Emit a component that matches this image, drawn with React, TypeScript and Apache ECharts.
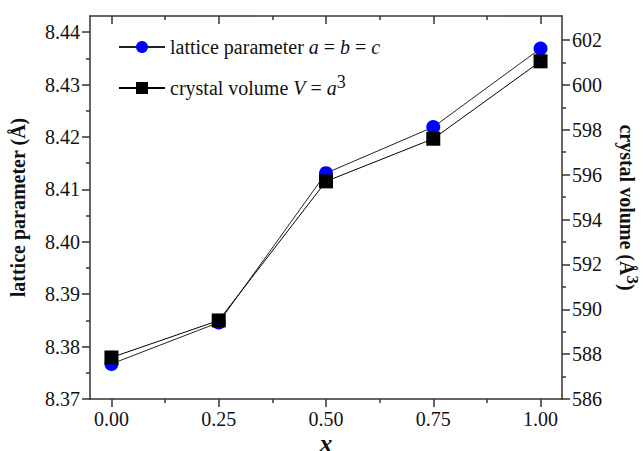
import React, { useEffect, useRef } from "react";
import * as echarts from "echarts";

const xValues = [0, 0.25, 0.5, 0.75, 1.0];
const latticeA = [8.3767, 8.3846, 8.4131, 8.4219, 8.4369];
const volumeV = [587.85, 589.5, 595.7, 597.6, 601.05];

const xMajor = [0, 0.25, 0.5, 0.75, 1.0];
const xMinor = [0.125, 0.375, 0.625, 0.875];
const leftMajor = [8.37, 8.38, 8.39, 8.4, 8.41, 8.42, 8.43, 8.44];
const leftMinor = [8.375, 8.385, 8.395, 8.405, 8.415, 8.425, 8.435];
const rightMajor = [586, 588, 590, 592, 594, 596, 598, 600, 602];
const rightMinor = [587, 589, 591, 593, 595, 597, 599, 601];

const FONT = "'Liberation Serif', 'Times New Roman', serif";
const AX = "#333";

export default function App() {
  const ref = useRef<HTMLDivElement>(null);
  useEffect(() => {
    if (!ref.current) return;
    document.body.style.margin = "0";
    const chart = echarts.init(ref.current, undefined, { renderer: "svg" });
    const X_MIN = -0.05, X_MAX = 1.05;
    const L_MIN = 8.37, L_MAX = 8.4431;
    const R_MIN = 586, R_MAX = 603.07;

    const gridBox = { left: 90, right: 81, top: 16, bottom: 52, containLabel: false, outerBoundsMode: "none" };

    const xAxisBase = (gridIndex: number, position: string, values: number[], len: number, inside: boolean, label: boolean, line: boolean) => ({
      type: "value",
      gridIndex,
      position,
      min: X_MIN,
      max: X_MAX,
      splitLine: { show: false },
      axisLine: { show: line, onZero: false, lineStyle: { color: AX, width: 1.5 } },
      axisTick: { show: true, inside, length: len, customValues: values, lineStyle: { color: AX, width: 1.5 } },
      axisLabel: label
        ? { show: true, customValues: values, formatter: (v: number) => v.toFixed(2), fontFamily: FONT, fontSize: 20, lineHeight: 20, color: "#111", margin: 10 }
        : { show: false },
    });
    const yAxisBase = (gridIndex: number, position: string, min: number, max: number, values: number[], len: number, label: boolean, line: boolean, fmt: (v: number) => string) => ({
      type: "value",
      gridIndex,
      position,
      min,
      max,
      splitLine: { show: false },
      axisLine: { show: line, onZero: false, lineStyle: { color: AX, width: 1.5 } },
      axisTick: { show: true, inside: false, length: len, customValues: values, lineStyle: { color: AX, width: 1.5 } },
      axisLabel: label
        ? { show: true, customValues: values, formatter: fmt, fontFamily: FONT, fontSize: 20, color: "#111", margin: 10 }
        : { show: false },
    });

    const xAxes: any[] = [
      {
        ...xAxisBase(0, "bottom", xMajor, 8, false, true, true),
        name: "x",
        nameLocation: "middle",
        nameGap: 31,
        nameMoveOverlap: false,
        nameTextStyle: { fontFamily: FONT, fontSize: 26, lineHeight: 26, fontWeight: "bold", fontStyle: "italic", color: "#111" },
      },
      xAxisBase(0, "top", xMajor, 8, true, false, true),
      xAxisBase(1, "bottom", xMinor, 4, false, false, false),
      xAxisBase(1, "top", xMinor, 4, true, false, false),
    ];
    const yAxes: any[] = [
      {
        ...yAxisBase(0, "left", L_MIN, L_MAX, leftMajor, 8, true, true, (v) => v.toFixed(2)),
        name: "lattice parameter (Å)",
        nameLocation: "middle",
        nameGap: 62,
        nameRotate: 90,
        nameTextStyle: { fontFamily: FONT, fontSize: 20, fontWeight: "bold", color: "#111" },
      },
      {
        ...yAxisBase(0, "right", R_MIN, R_MAX, rightMajor, 8, true, true, (v) => String(Math.round(v))),
        name: "{b|crystal volume (Å}{s|3}{b|)}",
        nameLocation: "middle",
        nameGap: 46,
        nameRotate: -90,
        nameTextStyle: {
          fontFamily: FONT,
          fontSize: 20,
          fontWeight: "bold",
          color: "#111",
          rich: {
            b: { fontFamily: FONT, fontSize: 20, fontWeight: "bold", color: "#111" },
            s: { fontFamily: FONT, fontSize: 17, color: "#111", lineHeight: 17, padding: [0, 0, 11, 0] },
          },
        },
      },
      yAxisBase(1, "left", L_MIN, L_MAX, leftMinor, 4, false, false, () => ""),
      yAxisBase(1, "right", R_MIN, R_MAX, rightMinor, 4, false, false, () => ""),
    ];

    chart.setOption({
      animation: false,
      backgroundColor: "#fff",
      grid: [gridBox, gridBox],
      legend: {
        orient: "vertical",
        left: 113,
        top: 32,
        itemWidth: 46,
        itemHeight: 15,
        itemGap: 16,
        textStyle: {
          fontFamily: FONT,
          fontSize: 20,
          color: "#111",
          rich: {
            t: { fontFamily: FONT, fontSize: 20, color: "#111" },
            i: { fontFamily: FONT, fontSize: 20, fontStyle: "italic", color: "#111" },
            s: { fontFamily: FONT, fontSize: 18, color: "#111", lineHeight: 18, padding: [0, 0, 12, 0] },
          },
        },
        formatter: (name: string) =>
          name === "lattice"
            ? "{t|lattice parameter }{i|a}{t| = }{i|b}{t| = }{i|c}"
            : "{t|crystal volume }{i|V}{t| = }{i|a}{s|3}",
        data: ["lattice", "volume"],
      },
      xAxis: xAxes,
      yAxis: yAxes,
      series: [
        {
          name: "lattice",
          type: "line",
          xAxisIndex: 0,
          yAxisIndex: 0,
          data: xValues.map((x, i) => [x, latticeA[i]]),
          symbol: "circle",
          symbolSize: 14,
          itemStyle: { color: "#0000ff" },
          lineStyle: { color: "#222", width: 1 },
        },
        {
          name: "volume",
          type: "line",
          xAxisIndex: 0,
          yAxisIndex: 1,
          data: xValues.map((x, i) => [x, volumeV[i]]),
          symbol: "rect",
          symbolSize: 14,
          itemStyle: { color: "#000" },
          lineStyle: { color: "#000", width: 1 },
        },
      ],
    });
    return () => chart.dispose();
  }, []);
  return <div ref={ref} style={{ width: 643, height: 451 }} />;
}
